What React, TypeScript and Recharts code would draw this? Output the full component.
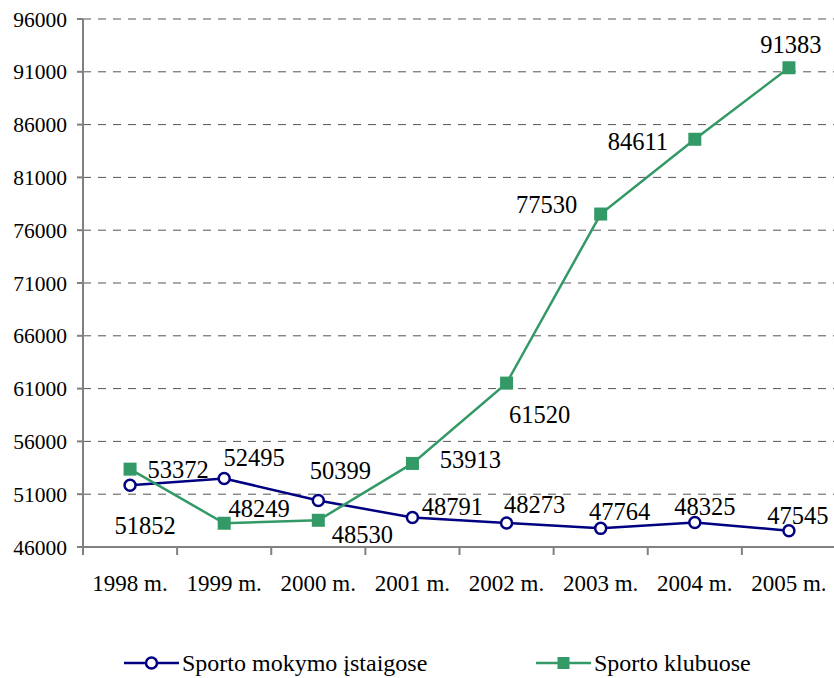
import { CartesianGrid, LabelList, Legend, Line, LineChart, XAxis, YAxis } from 'recharts';

const years = ['1998 m.', '1999 m.', '2000 m.', '2001 m.', '2002 m.', '2003 m.', '2004 m.', '2005 m.'];
const mokymoIstaigose = [51852, 52495, 50399, 48791, 48273, 47764, 48325, 47545];
const klubuose = [53372, 48249, 48530, 53913, 61520, 77530, 84611, 91383];
const yTicks = [46000, 51000, 56000, 61000, 66000, 71000, 76000, 81000, 86000, 91000, 96000];

const NAVY = '#000080';
const GREEN = '#339966';
const FONT = 'Liberation Serif, DejaVu Serif, serif';

const CHART_W = 840;
const CHART_H = 678;
const MARGIN = { top: 19, right: 4, left: 0, bottom: 0 };
const Y_AXIS_W = 83;
const STEP = (CHART_W - MARGIN.left - MARGIN.right - Y_AXIS_W) / years.length;

// label offsets from each point (dx, dy), like the hand-placed labels in the original
const navyLabelOffsets = [[15, 40], [30, -21], [22, -30], [40, -11], [28, -18], [19, -17], [10, -16], [9, -15]];
const greenLabelOffsets = [[48, 0], [35, -15], [44, 14], [58, -4], [33, 31], [-54, -10], [-57, 2], [2, -23]];

const data = years.map((year, i) => ({
  year,
  mokymo: mokymoIstaigose[i],
  klubuose: klubuose[i],
}));

function makeLabel(offsets: number[][]) {
  return (props: any) => {
    const { x, y, value, index } = props;
    const [dx, dy] = offsets[index] || [0, 0];
    return (
      <text
        x={Number(x) + dx}
        y={Number(y) + dy}
        textAnchor="middle"
        dominantBaseline="central"
        style={{ fontFamily: FONT, fontSize: 24.5 }}
        fill="#000"
      >
        {value}
      </text>
    );
  };
}

function XTick(props: any) {
  const { x, y, payload } = props;
  const tx = x - STEP / 2;
  return (
    <g>
      <line x1={tx} x2={tx} y1={y} y2={y + 8} stroke="#808080" strokeWidth={2} />
      <text x={x} y={y + 36} textAnchor="middle" dominantBaseline="central" style={{ fontFamily: FONT, fontSize: 23 }} fill="#000">
        {payload.value}
      </text>
    </g>
  );
}

function SquareDot(props: any) {
  const { cx, cy } = props;
  if (cx == null || cy == null) return null;
  return <rect x={cx - 6.5} y={cy - 6.5} width={13} height={13} fill={GREEN} />;
}

function ChartLegend() {
  const item = (left: number, color: string, label: string, square: boolean) => (
    <div style={{ position: 'absolute', left, top: 0, height: 30, display: 'flex', alignItems: 'center' }}>
      <svg width={55} height={20}>
        <line x1={0} x2={55} y1={10} y2={10} stroke={color} strokeWidth={2.5} />
        {square ? (
          <rect x={21.5} y={4} width={12} height={12} fill={color} />
        ) : (
          <circle cx={27.5} cy={10} r={5.5} fill="#fff" stroke={color} strokeWidth={2.5} />
        )}
      </svg>
      <span style={{ fontFamily: FONT, fontSize: 24, color: '#000', marginLeft: 3, whiteSpace: 'nowrap' }}>{label}</span>
    </div>
  );
  return (
    <div style={{ position: 'relative', height: 30, width: CHART_W }}>
      {item(124, NAVY, 'Sporto mokymo įstaigose', false)}
      {item(536, GREEN, 'Sporto klubuose', true)}
    </div>
  );
}

export default function App() {
  return (
    <div style={{ position: 'absolute', left: 0, top: 0, width: 834, height: 678, overflow: 'hidden', background: '#fff', fontFamily: FONT }}>
      <LineChart width={CHART_W} height={CHART_H} data={data} margin={MARGIN} style={{ fontFamily: FONT }}>
        <CartesianGrid vertical={false} stroke="#555" strokeDasharray="8 7" />
        <XAxis
          dataKey="year"
          padding={{ left: STEP / 2, right: STEP / 2 }}
          height={CHART_H - 547 - 30}
          tickLine={false}
          tickSize={0}
          tickMargin={0}
          axisLine={{ stroke: '#808080', strokeWidth: 2 }}
          tick={<XTick />}
          interval={0}
        />
        <YAxis
          type="number"
          domain={[46000, 96000]}
          ticks={yTicks}
          width={Y_AXIS_W}
          allowDataOverflow
          axisLine={{ stroke: '#808080', strokeWidth: 2 }}
          tickLine={{ stroke: '#808080', strokeWidth: 2 }}
          tickSize={6}
          tickMargin={10}
          tick={{ fill: '#000', fontSize: 21.5, style: { fontFamily: FONT } }}
        />
        <Legend verticalAlign="bottom" content={() => <ChartLegend />} />
        <Line
          dataKey="mokymo"
          name="Sporto mokymo įstaigose"
          stroke={NAVY}
          strokeWidth={2.5}
          dot={{ r: 5.5, fill: '#fff', stroke: NAVY, strokeWidth: 2.5 }}
          isAnimationActive={false}
        >
          <LabelList dataKey="mokymo" content={makeLabel(navyLabelOffsets)} />
        </Line>
        <Line
          dataKey="klubuose"
          name="Sporto klubuose"
          stroke={GREEN}
          strokeWidth={2.5}
          dot={<SquareDot />}
          isAnimationActive={false}
        >
          <LabelList dataKey="klubuose" content={makeLabel(greenLabelOffsets)} />
        </Line>
      </LineChart>
    </div>
  );
}
